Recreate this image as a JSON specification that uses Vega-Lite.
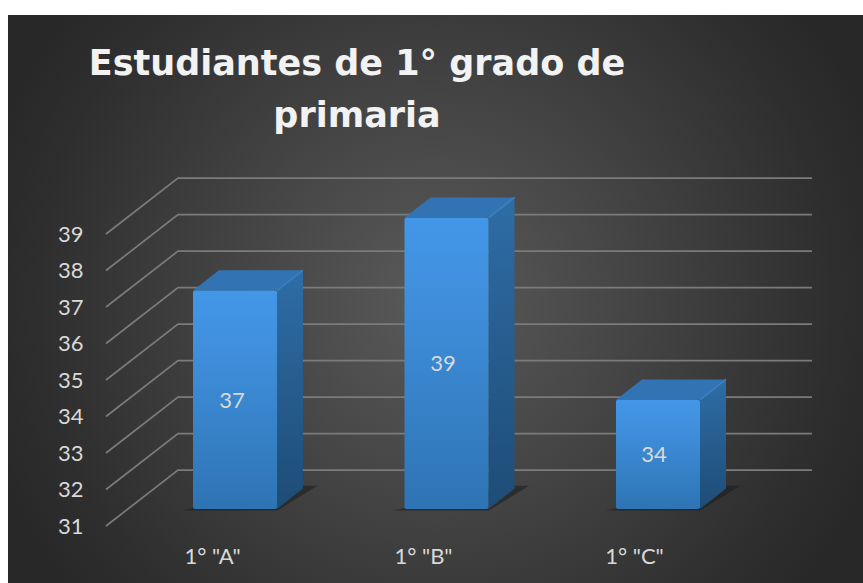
{
"$schema":"https://vega.github.io/schema/vega-lite/v6.json",
"width":863,"height":583,"padding":0,"autosize":{"type":"none"},"background":"#ffffff",
"title":{"text":["Estudiantes de 1° grado de","primaria"],"anchor":"start","align":"center","dx":357,"dy":166,"font":"DejaVu Sans","fontSize":35,"fontWeight":"bold","color":"#f2f2f2","lineHeight":52,"baseline":"alphabetic"},
"config":{"view":{"stroke":null}},
"datasets":{
"barras":[{"grupo":"1° \"A\"","posicion":1,"valor":37,"medio":34},{"grupo":"1° \"B\"","posicion":2,"valor":39,"medio":35},{"grupo":"1° \"C\"","posicion":3,"valor":34,"medio":32.5}],
"lateral":[
{"grupo":"A","h":1.1986,"base":31,"techo":37},{"grupo":"A","h":1.3215,"base":31.56,"techo":37.56},
{"grupo":"B","h":2.1986,"base":31,"techo":39},{"grupo":"B","h":2.3215,"base":31.56,"techo":39.56},
{"grupo":"C","h":3.1986,"base":31,"techo":34},{"grupo":"C","h":3.3215,"base":31.56,"techo":34.56}],
"tapa":[
{"grupo":"A","nivel":37,"h":0.8014,"h2":1.1986},{"grupo":"A","nivel":37.56,"h":0.9243,"h2":1.3215},
{"grupo":"B","nivel":39,"h":1.8014,"h2":2.1986},{"grupo":"B","nivel":39.56,"h":1.9243,"h2":2.3215},
{"grupo":"C","nivel":34,"h":2.8014,"h2":3.1986},{"grupo":"C","nivel":34.56,"h":2.9243,"h2":3.3215}],
"arista":[
{"grupo":"A","h":1.1986,"v":37},{"grupo":"A","h":1.3215,"v":37.56},
{"grupo":"B","h":2.1986,"v":39},{"grupo":"B","h":2.3215,"v":39.56},
{"grupo":"C","h":3.1986,"v":34},{"grupo":"C","h":3.3215,"v":34.56}],
"sombra":[
{"grupo":"A","nivel":30.96,"h":0.75,"h2":1.2},{"grupo":"A","nivel":31.64,"h":1.3,"h2":1.39},
{"grupo":"B","nivel":30.96,"h":1.75,"h2":2.2},{"grupo":"B","nivel":31.64,"h":2.3,"h2":2.39},
{"grupo":"C","nivel":30.96,"h":2.75,"h2":3.2},{"grupo":"C","nivel":31.64,"h":3.3,"h2":3.39}],
"fondo":[{"h":-0.0733,"h2":3.9693,"v":28.967,"v2":44.571}],
"rejilla":[
{"nivel":31,"h":0.39,"v":31},{"nivel":31,"h":0.7305,"v":32.53},{"nivel":31,"h":3.728,"v":32.53},
{"nivel":32,"h":0.39,"v":32},{"nivel":32,"h":0.7305,"v":33.53},{"nivel":32,"h":3.728,"v":33.53},
{"nivel":33,"h":0.39,"v":33},{"nivel":33,"h":0.7305,"v":34.53},{"nivel":33,"h":3.728,"v":34.53},
{"nivel":34,"h":0.39,"v":34},{"nivel":34,"h":0.7305,"v":35.53},{"nivel":34,"h":3.728,"v":35.53},
{"nivel":35,"h":0.39,"v":35},{"nivel":35,"h":0.7305,"v":36.53},{"nivel":35,"h":3.728,"v":36.53},
{"nivel":36,"h":0.39,"v":36},{"nivel":36,"h":0.7305,"v":37.53},{"nivel":36,"h":3.728,"v":37.53},
{"nivel":37,"h":0.39,"v":37},{"nivel":37,"h":0.7305,"v":38.53},{"nivel":37,"h":3.728,"v":38.53},
{"nivel":38,"h":0.39,"v":38},{"nivel":38,"h":0.7305,"v":39.53},{"nivel":38,"h":3.728,"v":39.53},
{"nivel":39,"h":0.39,"v":39},{"nivel":39,"h":0.7305,"v":40.53},{"nivel":39,"h":3.728,"v":40.53}]
},
"resolve":{"scale":{"x":"independent","y":"independent"}},
"layer":[
{"data":{"name":"fondo"},"mark":{"type":"rect","fill":{"gradient":"radial","x1":0.5,"y1":0.5,"r1":0,"x2":0.5,"y2":0.5,"r2":0.55,"stops":[{"offset":0,"color":"#5a5a5a"},{"offset":0.45,"color":"#434343"},{"offset":0.85,"color":"#2e2e2e"},{"offset":1,"color":"#282828"}]}},
"encoding":{"x":{"field":"h","type":"quantitative","scale":{"domain":[-0.1111,3.9693]},"axis":null},"x2":{"field":"h2"},"y":{"field":"v","type":"quantitative","scale":{"domain":[28.967,44.984]},"axis":null},"y2":{"field":"v2"}}},
{"data":{"name":"rejilla"},"mark":{"type":"line","color":"#7b7b7b","strokeWidth":1.7,"interpolate":"linear"},
"encoding":{"x":{"field":"h","type":"quantitative","scale":{"domain":[-0.1111,3.9693]},"axis":null},
"y":{"field":"v","type":"quantitative","scale":{"domain":[31,39],"range":[526,234]},
"axis":{"values":[31,32,33,34,35,36,37,38,39],"orient":"left","offset":-83,"zindex":1,"title":null,"domain":false,"ticks":false,"grid":false,"labelPadding":0,"labelOffset":0,"labelFont":"Lato","labelFontSize":22,"labelColor":"#d9d9d9"}},
"detail":{"field":"nivel"},"order":{"field":"h"}}},
{"data":{"name":"sombra"},"mark":{"type":"area","orient":"horizontal","color":"#1c1c1c","opacity":0.55},
"encoding":{"y":{"field":"nivel","type":"quantitative","scale":{"domain":[28.967,44.984]},"axis":null},"x":{"field":"h","type":"quantitative","scale":{"domain":[-0.1111,3.9693]},"axis":null},"x2":{"field":"h2"},"detail":{"field":"grupo"}}},
{"data":{"name":"lateral"},"mark":{"type":"area","orient":"vertical","fill":{"gradient":"linear","x1":0,"y1":0,"x2":0,"y2":1,"stops":[{"offset":0,"color":"#2e6da6"},{"offset":1,"color":"#1e4c76"}]}},
"encoding":{"x":{"field":"h","type":"quantitative","scale":{"domain":[-0.1111,3.9693]},"axis":null},"y":{"field":"techo","type":"quantitative","scale":{"domain":[28.967,44.984]},"axis":null},"y2":{"field":"base"},"detail":{"field":"grupo"}}},
{"data":{"name":"tapa"},"mark":{"type":"area","orient":"horizontal","color":"#3273b3"},
"encoding":{"y":{"field":"nivel","type":"quantitative","scale":{"domain":[28.967,44.984]},"axis":null},"x":{"field":"h","type":"quantitative","scale":{"domain":[-0.1111,3.9693]},"axis":null},"x2":{"field":"h2"},"detail":{"field":"grupo"}}},
{"data":{"name":"arista"},"mark":{"type":"line","color":"#3b80c2","strokeWidth":1.5},
"encoding":{"x":{"field":"h","type":"quantitative","scale":{"domain":[-0.1111,3.9693]},"axis":null},"y":{"field":"v","type":"quantitative","scale":{"domain":[28.967,44.984]},"axis":null},"detail":{"field":"grupo"}}},
{"data":{"name":"barras"},"mark":{"type":"bar","size":84,"cornerRadius":2,"fill":{"gradient":"linear","x1":0,"y1":0,"x2":0,"y2":1,"stops":[{"offset":0,"color":"#4397e8"},{"offset":0.3,"color":"#3f8edb"},{"offset":1,"color":"#2e74b4"}]}},
"encoding":{"x":{"field":"posicion","type":"quantitative","scale":{"domain":[-0.1111,3.9693],"padding":0},"axis":null},"y":{"field":"valor","type":"quantitative","scale":{"domain":[28.967,44.984]},"axis":null},"y2":{"datum":31}}},
{"data":{"name":"barras"},"mark":{"type":"text","font":"Lato","fontSize":22,"color":"#d9d9d9","dx":20,"dy":1,"baseline":"middle"},
"encoding":{"x":{"field":"grupo","type":"nominal","sort":null,"scale":{"type":"point","range":[212,634],"padding":0},
"axis":{"orient":"bottom","offset":-27,"zindex":1,"title":null,"domain":false,"ticks":false,"grid":false,"labelAngle":0,"labelPadding":0,"labelBaseline":"middle","labelFont":"Lato","labelFontSize":22,"labelColor":"#d9d9d9"}},
"y":{"field":"medio","type":"quantitative","scale":{"domain":[28.967,44.984]},"axis":null},"text":{"field":"valor","type":"quantitative"}}}
]
}
